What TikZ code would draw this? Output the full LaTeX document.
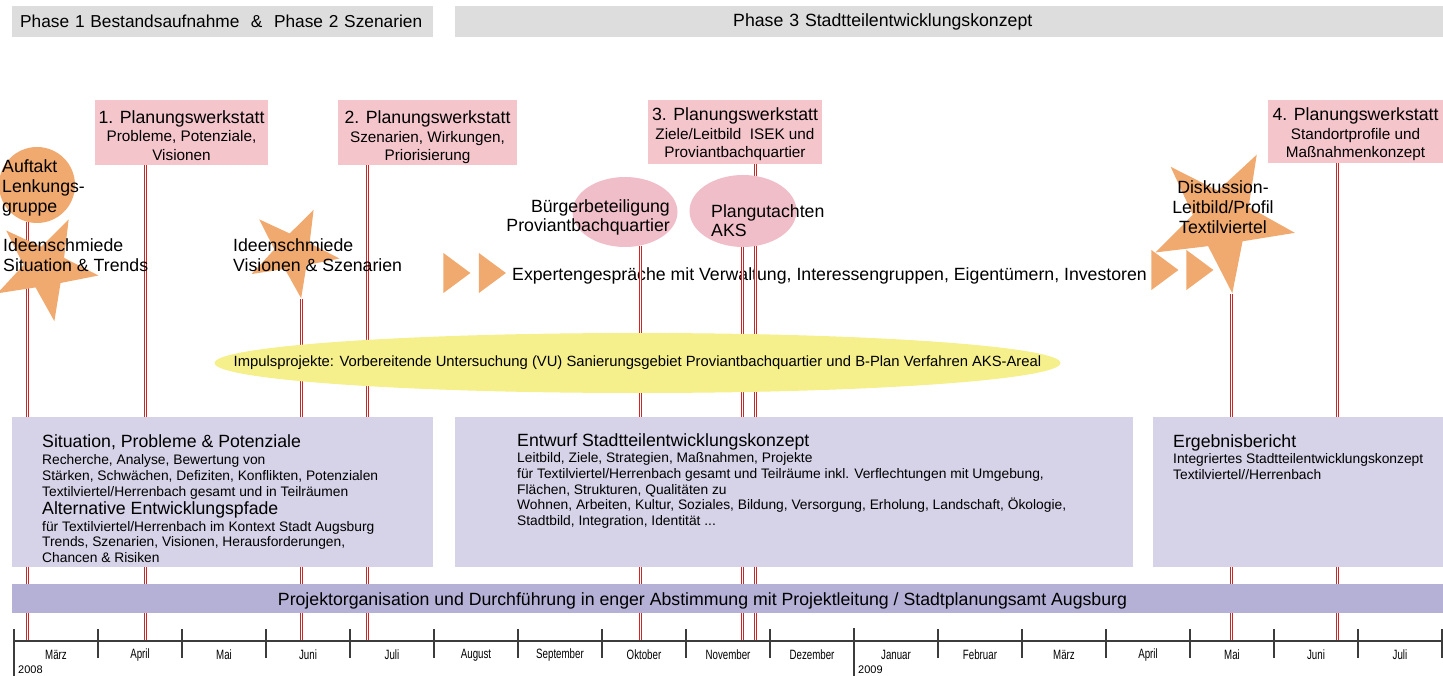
\documentclass[tikz,border=0pt]{standalone}
\usepackage{fontspec}
\setmainfont{Liberation Sans}
\newfontfamily\condfont{Liberation Sans}[FakeStretch=0.72]
\usetikzlibrary{shapes.geometric}
\definecolor{hdrgray}{RGB}{221,221,221}
\definecolor{pinkbox}{RGB}{244,198,204}
\definecolor{pinkell}{RGB}{240,190,200}
\definecolor{orangefill}{RGB}{240,170,112}
\definecolor{yellowfill}{RGB}{245,240,140}
\definecolor{lavbox}{RGB}{214,210,231}
\definecolor{purplebar}{RGB}{181,177,214}
\definecolor{linered}{RGB}{200,40,40}
\definecolor{axisgray}{RGB}{60,60,60}
\newcommand{\myfs}[2]{\fontsize{#1}{#2}\selectfont}
\tikzset{
  hdr/.style={fill=hdrgray, inner sep=0pt, minimum height=31pt, anchor=north west, align=left, font={\myfs{17.3}{20}}},
  pwbox/.style={fill=pinkbox, inner sep=0pt, align=center, font={\myfs{15.3}{18.5}}},
  lbl/.style={inner sep=0pt, font={\myfs{17.7}{20}}},
  orangestar/.style={star, star points=5, star point ratio=2.5, fill=orangefill, inner sep=0pt},
  pinkellipse/.style={ellipse, fill=pinkell, inner sep=0pt},
  tri/.style={isosceles triangle, isosceles triangle stretches, fill=orangefill, inner sep=0pt, minimum width=40pt, minimum height=27pt},
  lav/.style={fill=lavbox, inner sep=0pt, anchor=north west, minimum height=150pt},
  boxtxt/.style={inner sep=0pt, anchor=north west, align=left, font={\myfs{13.8}{15.7}}},
  evline/.style={draw=white, line width=1.1pt, preaction={draw=linered, line width=3.4pt}},
  axisline/.style={draw=axisgray, line width=1.1pt},
  month/.style={inner sep=0pt, font={\condfont\myfs{13.5}{14}}},
  yearlbl/.style={inner sep=0pt, anchor=west, font={\myfs{11}{12}}},
}
\begin{document}
\begin{tikzpicture}[x=1pt,y=-1pt]
\useasboundingbox (0,0) rectangle (1443,676);

% phase headers
\node[hdr, minimum width=421pt, text width=405pt, inner xsep=8pt] (ph12) at (12,6) {\mbox{Phase 1 Bestandsaufnahme \ \& \ Phase 2 Szenarien}};
\node[hdr, minimum width=988pt, text width=432pt, inner xsep=278pt, font={\myfs{17.7}{20}}] (ph3) at (455,6) {Phase 3 Stadtteilentwicklungskonzept};

% event points on the time axis
\coordinate (ev1) at (27.5,641);
\coordinate (ev2) at (145.5,641);
\coordinate (ev3) at (301.5,641);
\coordinate (ev4) at (367.5,641);
\coordinate (ev5) at (640.5,641);
\coordinate (ev6) at (742.5,641);
\coordinate (ev7) at (755.5,641);
\coordinate (ev8) at (1231.5,641);
\coordinate (ev9) at (1337.5,641);

% expert talks with arrows
\node[lbl, anchor=west] (exp) at (512,276) {Expertengespräche mit Verwaltung, Interessengruppen, Eigentümern, Investoren};
\node[tri] (a1) at (453.5,273) {};
\node[tri] (a2) at (489,273) {};
\node[tri] (a3) at (1161.5,270) {};
\node[tri] (a4) at (1196.5,270) {};

% Planungswerkstatt boxes
\node[pwbox, minimum width=173pt, minimum height=65pt] (pw1) at (181.5,132.5) {\rule{0pt}{19pt}{\myfs{17.7}{18.5}1. Planungswerkstatt}\\Probleme, Potenziale,\\Visionen};
\node[pwbox, minimum width=179pt, minimum height=65pt] (pw2) at (427.5,132.5) {\rule{0pt}{23pt}{\myfs{17.7}{18.5}2. Planungswerkstatt}\\Szenarien, Wirkungen,\\Priorisierung};
\node[pwbox, minimum width=174pt, minimum height=64pt] (pw3) at (735,132) {\rule{0pt}{18pt}{\myfs{17.7}{18.5}3. Planungswerkstatt}\\Ziele/Leitbild\ \ ISEK und\\Proviantbachquartier};
\node[pwbox, minimum width=175pt, minimum height=63pt] (pw4) at (1355.5,131.5) {\rule{0pt}{19pt}{\myfs{17.7}{18.5}4. Planungswerkstatt}\\Standortprofile und\\Maßnahmenkonzept};

% Auftakt and Buergerbeteiligung
\node[circle, fill=orangefill, minimum size=76pt, inner sep=0pt] (auftakt) at (37,185) {};
\node[pinkellipse, minimum width=105pt, minimum height=70pt] (bb) at (625,212) {};

% event lines (drawn before the shapes that hide them)
\draw[evline] (auftakt.-105 -| ev1) -- (ev1);
\draw[evline] (pw1.south -| ev2) -- (ev2);
\draw[evline] (pw2.south -| ev4) -- (ev4);
\draw[evline] (bb.-66 -| ev5) -- (ev5);
\draw[evline] (pw3.south -| ev7) -- (ev7);
\draw[evline] (pw4.south -| ev9) -- (ev9);

% stars
\node[orangestar, minimum size=108pt, rotate=46] (s1) at (45,268) {};
\node[orangestar, minimum size=94pt, rotate=46] (s2) at (293,252) {};
\draw[evline] (s2.outer point 3 -| ev3) -- (ev3);
\node[orangestar, minimum size=148pt, rotate=44] (s3) at (1222,220) {};
\draw[evline] (s3.outer point 3 -| ev8) -- (ev8);

% Plangutachten
\node[pinkellipse, minimum width=107pt, minimum height=72pt] (pg) at (743,211) {};
\draw[evline] (pg.south -| ev6) -- (ev6);

% texts on the shapes
\node[lbl, anchor=west, align=left] (auftakttxt) at (2,188) {Auftakt\\Lenkungs-\\gruppe};
\node[lbl, anchor=west, align=left] (s1txt) at (3,255) {Ideenschmiede\\Situation \& Trends};
\node[lbl, anchor=west, align=left] (s2txt) at (233,255) {Ideenschmiede\\Visionen \& Szenarien};
\node[lbl, align=center] (s3txt) at (1223,207) {Diskussion-\\Leitbild/Profil\\Textilviertel};
\node[lbl, anchor=east, align=right, font={\myfs{17.7}{19}}] (bbtxt) at (670,217) {Bürgerbeteiligung\\Proviantbachquartier};
\node[lbl, anchor=west, align=left, font={\myfs{17.7}{19}}] (pgtxt) at (711,221) {Plangutachten\\AKS};

% Impulsprojekte
\node[ellipse, fill=yellowfill, minimum width=846pt, minimum height=60pt, inner sep=0pt] (impuls) at (637.5,363) {};
\node[inner sep=0pt, font={\myfs{14.8}{16}}] (impulstxt) at (637.5,363) {Impulsprojekte: Vorbereitende Untersuchung (VU) Sanierungsgebiet Proviantbachquartier und B-Plan Verfahren AKS-Areal};

% lavender boxes
\node[lav, minimum width=421pt] (b1) at (12,417) {};
\node[lav, minimum width=678pt] (b2) at (455,417) {};
\node[lav, minimum width=290pt] (b3) at (1153,417) {};
\node[boxtxt] (b1txt) at (42,434) {{\myfs{17.7}{15.7}Situation, Probleme \& Potenziale}\\[2pt]Recherche, Analyse, Bewertung von\\Stärken, Schwächen, Defiziten, Konflikten, Potenzialen\\Textilviertel/Herrenbach gesamt und in Teilräumen\\[3pt]{\myfs{17.7}{15.7}Alternative Entwicklungspfade}\\[0.5pt]für Textilviertel/Herrenbach im Kontext Stadt Augsburg\\Trends, Szenarien, Visionen, Herausforderungen,\\Chancen \& Risiken};
\node[boxtxt] (b2txt) at (517,433) {{\myfs{17.7}{15.7}Entwurf Stadtteilentwicklungskonzept}\\[1pt]Leitbild, Ziele, Strategien, Maßnahmen, Projekte\\für Textilviertel/Herrenbach gesamt und Teilräume inkl. Verflechtungen mit Umgebung,\\Flächen, Strukturen, Qualitäten zu\\Wohnen, Arbeiten, Kultur, Soziales, Bildung, Versorgung, Erholung, Landschaft, Ökologie,\\Stadtbild, Integration, Identität ...};
\node[boxtxt] (b3txt) at (1173,434) {{\myfs{17.7}{15.7}Ergebnisbericht}\\[1pt]Integriertes Stadtteilentwicklungskonzept\\Textilviertel//Herrenbach};

% project organisation bar
\node[fill=purplebar, inner sep=0pt, minimum width=1431pt, minimum height=29pt] (orga) at (727.5,598.5) {};
\node[lbl] (orgatxt) at (702.5,601) {Projektorganisation und Durchführung in enger Abstimmung mit Projektleitung / Stadtplanungsamt Augsburg};

% timeline
\coordinate (tl0) at (14,641);
\coordinate (tlend) at (1443,641);
\draw[axisline] (tl0) -- (tlend);
\foreach \i in {1,...,9,11,12,...,17} {
  \draw[axisline] ({14+84*\i},629) -- ({14+84*\i},658);
}
\draw[axisline] (14,629) -- (14,676);
\draw[axisline] (854,628) -- (854,676);
\foreach \m [count=\i from 0] in {März,April,Mai,Juni,Juli,August,September,Oktober,November,Dezember,Januar,Februar,März,April,Mai,Juni,Juli} {
  \node[month] (mon\i) at ({56+84*\i},655) {\m};
}
\node[yearlbl] (y2008) at (18,670) {2008};
\node[yearlbl] (y2009) at (858,670) {2009};
\end{tikzpicture}
\end{document}
